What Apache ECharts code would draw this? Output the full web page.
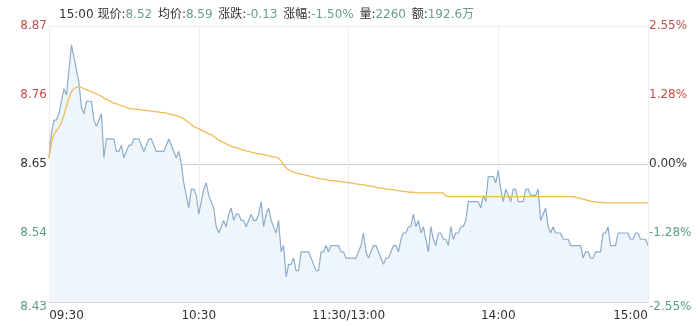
<!DOCTYPE html>
<html>
<head>
<meta charset="utf-8">
<script src="https://cdn.jsdelivr.net/npm/echarts@6/dist/echarts.min.js"></script>
<style>html,body{margin:0;padding:0;background:#fff}#c{width:700px;height:326px}</style>
</head>
<body>
<div id="c"></div>
<script>
// ---- data ----
const priceData = [
8.66,8.70,8.72,8.72,8.73,8.75,8.77,8.76,8.80,8.84,
8.82,8.80,8.78,8.74,8.73,8.75,8.75,8.75,8.72,8.71,
8.72,8.73,8.66,8.69,8.69,8.69,8.69,8.67,8.67,8.68,
8.66,8.67,8.68,8.68,8.69,8.69,8.69,8.68,8.67,8.68,
8.69,8.69,8.68,8.67,8.67,8.67,8.67,8.68,8.69,8.68,
8.67,8.66,8.67,8.65,8.62,8.60,8.58,8.61,8.61,8.60,
8.57,8.59,8.61,8.62,8.60,8.59,8.58,8.55,8.54,8.55,
8.56,8.55,8.57,8.58,8.56,8.57,8.57,8.56,8.56,8.55,
8.56,8.57,8.56,8.56,8.57,8.59,8.55,8.57,8.58,8.56,
8.55,8.54,8.56,8.51,8.52,8.47,8.49,8.49,8.50,8.48,
8.48,8.51,8.51,8.51,8.51,8.50,8.49,8.48,8.48,8.51,
8.51,8.52,8.51,8.52,8.52,8.52,8.52,8.51,8.51,8.50,
8.50,8.50,8.50,8.50,8.51,8.52,8.54,8.51,8.50,8.51,
8.52,8.52,8.51,8.50,8.49,8.50,8.50,8.51,8.52,8.52,
8.51,8.53,8.54,8.54,8.55,8.55,8.57,8.55,8.56,8.54,
8.55,8.53,8.51,8.55,8.53,8.52,8.54,8.54,8.53,8.53,
8.52,8.55,8.53,8.54,8.54,8.55,8.55,8.56,8.59,8.59,
8.59,8.59,8.59,8.58,8.60,8.59,8.63,8.63,8.63,8.62,
8.64,8.61,8.59,8.61,8.60,8.59,8.61,8.61,8.59,8.59,
8.59,8.61,8.61,8.60,8.60,8.60,8.61,8.56,8.57,8.58,
8.55,8.54,8.55,8.54,8.54,8.54,8.53,8.53,8.53,8.52,
8.52,8.52,8.52,8.52,8.50,8.51,8.51,8.50,8.50,8.51,
8.51,8.51,8.54,8.54,8.55,8.52,8.52,8.52,8.54,8.54,
8.54,8.54,8.54,8.53,8.53,8.54,8.54,8.53,8.53,8.53,
8.52
];
const avgData = [
8.660,8.685,8.698,8.703,8.709,8.716,8.728,8.742,8.755,8.765,
8.770,8.772,8.773,8.772,8.770,8.768,8.767,8.765,8.763,8.762,
8.760,8.758,8.755,8.753,8.751,8.749,8.747,8.746,8.744,8.743,
8.742,8.740,8.739,8.738,8.738,8.737,8.737,8.736,8.736,8.735,
8.735,8.734,8.734,8.733,8.733,8.732,8.732,8.731,8.730,8.729,
8.728,8.727,8.726,8.724,8.722,8.719,8.716,8.713,8.710,8.708,
8.706,8.704,8.702,8.700,8.698,8.697,8.694,8.691,8.688,8.686,
8.684,8.682,8.680,8.678,8.677,8.676,8.675,8.673,8.672,8.671,
8.670,8.669,8.668,8.667,8.666,8.666,8.665,8.664,8.663,8.662,
8.661,8.661,8.659,8.655,8.648,8.644,8.641,8.638,8.637,8.636,
8.635,8.634,8.633,8.632,8.631,8.630,8.629,8.628,8.627,8.626,
8.626,8.625,8.624,8.624,8.623,8.623,8.622,8.622,8.621,8.621,
8.620,8.620,8.619,8.618,8.618,8.617,8.617,8.616,8.615,8.615,
8.614,8.613,8.612,8.612,8.611,8.610,8.610,8.609,8.609,8.608,
8.607,8.607,8.606,8.606,8.605,8.605,8.605,8.604,8.604,8.604,
8.604,8.604,8.604,8.604,8.604,8.604,8.604,8.604,8.604,8.599,
8.598,8.598,8.598,8.598,8.598,8.598,8.598,8.598,8.598,8.598,
8.598,8.598,8.598,8.598,8.598,8.598,8.598,8.598,8.598,8.598,
8.598,8.598,8.598,8.598,8.598,8.598,8.598,8.598,8.598,8.598,
8.598,8.598,8.598,8.598,8.598,8.598,8.598,8.598,8.598,8.598,
8.598,8.598,8.598,8.598,8.598,8.598,8.598,8.598,8.598,8.598,
8.598,8.597,8.596,8.595,8.594,8.593,8.592,8.591,8.590,8.590,
8.589,8.589,8.588,8.588,8.588,8.588,8.588,8.588,8.588,8.588,
8.588,8.588,8.588,8.588,8.588,8.588,8.588,8.588,8.588,8.588,
8.588
];
const leftTickLabels = ['8.43', '8.54', '8.65', '8.76', '8.87'];
const rightTickLabels = ['-2.55%', '-1.28%', '0.00%', '1.28%', '2.55%'];
const timeTickLabels = ['09:30', '10:30', '11:30/13:00', '14:00', '15:00'];
const priceMin = 8.43, priceMax = 8.87;
const header = { time: '15:00', price: '8.52', avg: '8.59', change: '-0.13', pct: '-1.50%', vol: '2260', amount: '192.6万' };

// minute categories 09:30-11:30, 13:01-15:00
const categories = [];
function pad(n){return (n<10?'0':'')+n;}
for (let m = 9*60+30; m <= 11*60+30; m++) categories.push(pad(Math.floor(m/60))+':'+pad(m%60));
for (let m = 13*60+1; m <= 15*60; m++) categories.push(pad(Math.floor(m/60))+':'+pad(m%60));

const RED = '#c0504d', GREEN = '#5f9e80', DARK = '#333';
const FONT = 'DejaVu Sans, "Noto Sans CJK SC", sans-serif';
const tickIdx = i => i % 60 === 0;

const chart = echarts.init(document.getElementById('c'), null, {renderer:'canvas'});
chart.setOption({
  animation: false,
  textStyle: { fontFamily: FONT },
  title: {
    left: 54, top: 1,
    text: `{k|${header.time} 现价:}{v|${header.price}} {k|均价:}{v|${header.avg}} {k|涨跌:}{v|${header.change}} {k|涨幅:}{v|${header.pct}} {k|量:}{v|${header.vol}} {k|额:}{v|${header.amount}}`,
    textStyle: {
      fontWeight: 'normal',
      rich: {
        k: { color: DARK, fontSize: 12, fontFamily: FONT, fontWeight: 'normal' },
        v: { color: '#6a9e88', fontSize: 12, fontFamily: FONT, fontWeight: 'normal' }
      }
    }
  },
  grid: { left: 49, right: 52, top: 26, bottom: 24 },
  xAxis: {
    type: 'category', data: categories, boundaryGap: false,
    axisTick: { show: false },
    axisLine: { lineStyle: { color: '#d6d6d6' } },
    splitLine: { show: true, interval: tickIdx, lineStyle: { color: '#e8edf1', width: 1 } },
    axisLabel: {
      interval: tickIdx, margin: 8, color: DARK, fontSize: 12, fontFamily: FONT,
      formatter: (v, i) => {
        const t = timeTickLabels[Math.round(i/60)];
        if (i === 0) return '{a|' + t + '}';
        if (i === 240) return '{b|' + t + '}';
        return t;
      },
      rich: {
        a: { padding: [0,0,0,35], color: DARK, fontSize: 12, fontFamily: FONT },
        b: { padding: [0,35,0,0], color: DARK, fontSize: 12, fontFamily: FONT }
      }
    }
  },
  yAxis: [
    {
      type: 'value', position: 'left', min: 0, max: 4, interval: 1,
      axisLine: { show: false }, axisTick: { show: false },
      splitLine: { show: true, lineStyle: { color: ['#d6d6d6', 'rgba(0,0,0,0)', '#cccccc', 'rgba(0,0,0,0)', '#ececec'] } },
      axisLabel: {
        margin: 2, fontSize: 12, fontFamily: FONT,
        formatter: v => {
          const i = Math.round(v);
          const t = leftTickLabels[i];
          return i === 0 ? '{m|' + t + '}' : i === 2 ? '{d|' + t + '}' : i > 2 ? '{r|' + t + '}' : '{g|' + t + '}';
        },
        rich: {
          r: { color: RED, fontSize: 12, fontFamily: FONT },
          d: { color: DARK, fontSize: 12, fontFamily: FONT },
          g: { color: GREEN, fontSize: 12, fontFamily: FONT },
          m: { color: GREEN, fontSize: 12, fontFamily: FONT, padding: [10,0,0,0] }
        }
      }
    },
    {
      type: 'value', position: 'right', min: 0, max: 4, interval: 1,
      axisLine: { show: false }, axisTick: { show: false }, splitLine: { show: false },
      axisLabel: {
        margin: 1, fontSize: 12, fontFamily: FONT,
        formatter: v => {
          const i = Math.round(v);
          const t = rightTickLabels[i];
          return i === 0 ? '{m|' + t + '}' : i === 2 ? '{d|' + t + '}' : i > 2 ? '{r|' + t + '}' : '{g|' + t + '}';
        },
        rich: {
          r: { color: RED, fontSize: 12, fontFamily: FONT },
          d: { color: DARK, fontSize: 12, fontFamily: FONT },
          g: { color: GREEN, fontSize: 12, fontFamily: FONT },
          m: { color: GREEN, fontSize: 12, fontFamily: FONT, padding: [10,0,0,0] }
        }
      }
    },
    { type: 'value', show: false, min: priceMin, max: priceMax, splitLine: { show: false } }
  ],
  series: [
    {
      type: 'line', yAxisIndex: 2, data: priceData, showSymbol: false, symbol: 'none',
      lineStyle: { color: '#8eadca', width: 1.2 },
      areaStyle: { color: '#eef5fb', opacity: 1, origin: 'start' }
    },
    {
      type: 'line', yAxisIndex: 2, data: avgData, showSymbol: false, symbol: 'none',
      lineStyle: { color: '#f0bd55', width: 1.3 }
    }
  ]
});
</script>
</body>
</html>
